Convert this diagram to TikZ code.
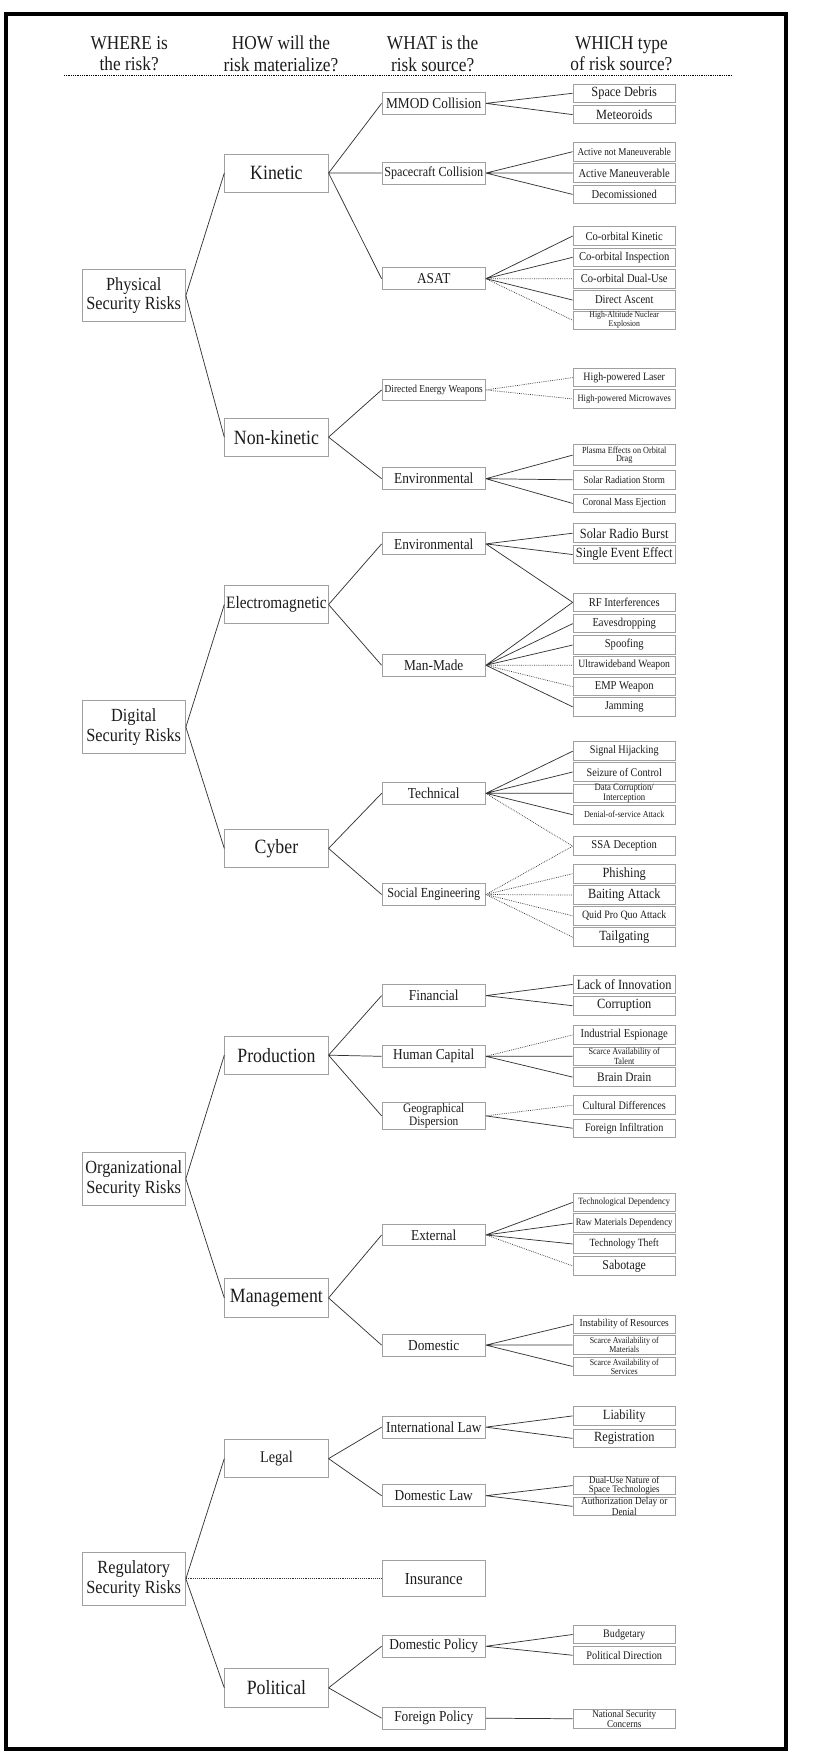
\documentclass[tikz,border=0pt]{standalone}
\usepackage{fontspec}
\setmainfont{Liberation Serif}[FakeStretch=0.88]
\usetikzlibrary{positioning}
\definecolor{ink}{HTML}{1C1C1C}
\definecolor{boxgray}{HTML}{A0A0A0}
\definecolor{linegray}{HTML}{333333}

\begin{document}
\begin{tikzpicture}[x=1pt, y=-1pt,
    box/.style={draw=boxgray, line width=0.8pt, fill=white, text=ink,
                align=center, inner sep=0pt},
    where/.style={box, minimum width=92, minimum height=47,
                  font=\fontsize{16.5}{17.5}\selectfont},
    how/.style={box, minimum width=92, minimum height=34,
                font=\fontsize{18}{19}\selectfont},
    what/.style={box, minimum width=92, minimum height=19.5,
                 font=\fontsize{13.5}{13.5}\selectfont},
    which/.style={box, minimum width=91, minimum height=16.5,
                  font=\fontsize{10.7}{10.7}\selectfont},
    sz/.style={font=\fontsize{#1}{#1}\selectfont},
    two/.style 2 args={font=\fontsize{#1}{#2}\selectfont},
    hdr/.style={text=ink, align=center, font=\fontsize{17.5}{19}\selectfont},
    ln/.style={draw=linegray, line width=0.65pt},
    dln/.style={ln, densely dotted},
  ]
    \useasboundingbox (0,0) rectangle (737,1568);
    \draw[line width=3pt] (5.5,12.5) rectangle (699.5,1556.5);

    % column questions
    \node[hdr] (hwhere) at (115,48) {WHERE is\\the risk?};
    \node[hdr] (hhow)   at (250,48) {HOW will the\\risk materialize?};
    \node[hdr] (hwhat)  at (385,48) {WHAT is the\\risk source?};
    \node[hdr] (hwhich) at (553,48) {WHICH type\\of risk source?};
    \draw[densely dotted, line width=0.6pt] (57,67) -- (651,67);

    % WHERE
    \node[where] (phys) at (119,263)  {Physical\\Security Risks};
    \node[where] (digi) at (119,647)  {Digital\\Security Risks};
    \node[where] (orga) at (119,1049) {Organizational\\Security Risks};
    \node[where] (regu) at (119,1405) {Regulatory\\Security Risks};

    % HOW
    \node[how] (kin)   at (246,154)  {Kinetic};
    \node[how] (nkin)  at (246,389)  {Non-kinetic};
    \node[how, sz=15.5] (emag) at (246,538) {Electromagnetic};
    \node[how] (cyb)   at (246,755)  {Cyber};
    \node[how] (prod)  at (246,939)  {Production};
    \node[how] (mgmt)  at (246,1155) {Management};
    \node[how, sz=14.5] (legal) at (246,1298) {Legal};
    \node[how] (polit) at (246,1502) {Political};

    % WHAT
    \node[what] (mmod) at (386,92)  {MMOD Collision};
    \node[what, sz=12.3] (scol) at (386,154) {Spacecraft Collision};
    \node[what] (asat) at (386,248) {ASAT};
    \node[what, sz=9.5] (dew) at (386,347) {Directed Energy Weapons};
    \node[what] (envp) at (386,426) {Environmental};
    \node[what] (enve) at (386,484) {Environmental};
    \node[what] (manm) at (386,592) {Man-Made};
    \node[what] (tech) at (386,706) {Technical};
    \node[what, sz=12.3] (soce) at (386,796) {Social Engineering};
    \node[what] (fin)  at (386,886) {Financial};
    \node[what] (hcap) at (386,940) {Human Capital};
    \node[what, minimum height=24, two={11.5}{12}] (geo) at (386,993) {Geographical\\Dispersion};
    \node[what] (ext)  at (386,1099) {External};
    \node[what] (dom)  at (386,1197) {Domestic};
    \node[what] (ilaw) at (386,1270) {International Law};
    \node[what] (dlaw) at (386,1331) {Domestic Law};
    \node[what, minimum height=32, sz=15] (insu) at (386,1405) {Insurance};
    \node[what] (dpol) at (386,1465) {Domestic Policy};
    \node[what] (fpol) at (386,1529) {Foreign Policy};

    % WHICH
    \node[which, sz=12.5] (sdeb)  at (555.5,83)  {Space Debris};
    \node[which, sz=12.5] (meteo) at (555.5,102) {Meteoroids};
    \node[which, sz=9.3] (anm)    at (555.5,135) {Active not Maneuverable};
    \node[which] (am)             at (555.5,154) {Active Maneuverable};
    \node[which] (decom)          at (555.5,173) {Decomissioned};
    \node[which] (cok)            at (555.5,210) {Co-orbital Kinetic};
    \node[which] (coi)            at (555.5,229) {Co-orbital Inspection};
    \node[which] (codu)           at (555.5,248) {Co-orbital Dual-Use};
    \node[which] (dasc)           at (555.5,267) {Direct Ascent};
    \node[which, two={7.8}{5.8}] (hane) at (555.5,285) {High-Altitude Nuclear\\Explosion};
    \node[which, sz=10] (hplas)   at (555.5,336) {High-powered Laser};
    \node[which, sz=8.6] (hpmw)   at (555.5,355) {High-powered Microwaves};
    \node[which, minimum height=19, two={8.3}{7}] (plasma) at (555.5,405) {Plasma Effects on Orbital\\Drag};
    \node[which, sz=9.2] (srs)    at (555.5,427) {Solar Radiation Storm};
    \node[which, sz=9.2] (cme)    at (555.5,448) {Coronal Mass Ejection};
    \node[which, sz=12.5] (srb)   at (555.5,474.5) {Solar Radio Burst};
    \node[which, sz=12.5] (see)   at (555.5,493.5) {Single Event Effect};
    \node[which] (rfi)            at (555.5,536) {RF Interferences};
    \node[which] (eaves)          at (555.5,555) {Eavesdropping};
    \node[which] (spoof)          at (555.5,574) {Spoofing};
    \node[which, sz=9.8] (uwb)    at (555.5,592) {Ultrawideband Weapon};
    \node[which] (emp)            at (555.5,611) {EMP Weapon};
    \node[which] (jam)            at (555.5,629) {Jamming};
    \node[which, sz=10.3] (shij)  at (555.5,668.5) {Signal Hijacking};
    \node[which, sz=10.3] (seiz)  at (555.5,687) {Seizure of Control};
    \node[which, two={8.8}{6.4}] (dcor) at (555.5,706) {Data Corruption/\\Interception};
    \node[which, sz=8.2] (dos)    at (555.5,725) {Denial-of-service Attack};
    \node[which] (ssa)            at (555.5,753) {SSA Deception};
    \node[which, sz=12.5] (phish) at (555.5,777.5) {Phishing};
    \node[which, sz=12.5] (bait)  at (555.5,796.5) {Baiting Attack};
    \node[which, sz=10] (quid)    at (555.5,815) {Quid Pro Quo Attack};
    \node[which, sz=12.5] (tail)  at (555.5,834) {Tailgating};
    \node[which, sz=12.5] (lack)  at (555.5,876) {Lack of Innovation};
    \node[which, sz=12.5] (corr)  at (555.5,895) {Corruption};
    \node[which] (iesp)           at (555.5,921) {Industrial Espionage};
    \node[which, two={8.3}{6.6}] (stal) at (555.5,940) {Scarce Availability of\\Talent};
    \node[which, sz=11.5] (bdrain) at (555.5,958.5) {Brain Drain};
    \node[which, sz=10.3] (cult)  at (555.5,983.5) {Cultural Differences};
    \node[which, sz=10.3] (finf)  at (555.5,1004) {Foreign Infiltration};
    \node[which, sz=8.5] (tdep)   at (555.5,1070) {Technological Dependency};
    \node[which, sz=8.8] (rdep)   at (555.5,1088.5) {Raw Materials Dependency};
    \node[which, sz=9.8] (ttheft) at (555.5,1107) {Technology Theft};
    \node[which, sz=12] (sabo)    at (555.5,1126.5) {Sabotage};
    \node[which, sz=9.5] (instab) at (555.5,1178.5) {Instability of Resources};
    \node[which, two={8}{6.4}] (smat)  at (555.5,1197) {Scarce Availability of\\Materials};
    \node[which, two={8}{6.4}] (sserv) at (555.5,1216) {Scarce Availability of\\Services};
    \node[which, sz=12.5] (liab)  at (555.5,1260) {Liability};
    \node[which, sz=12.5] (regis) at (555.5,1280) {Registration};
    \node[which, two={9}{6.2}] (dual) at (555.5,1322) {Dual-Use Nature of\\Space Technologies};
    \node[which, two={9.4}{6.2}] (auth) at (555.5,1340.5) {Authorization Delay or\\Denial};
    \node[which, sz=10.2] (budg)  at (555.5,1454.5) {Budgetary};
    \node[which, sz=10.4] (pdir)  at (555.5,1473) {Political Direction};
    \node[which, two={9.2}{6.8}] (nsec) at (555.5,1529.5) {National Security\\Concerns};

    % WHERE -> HOW
    \draw[ln] (phys.east) -- (kin.west) (phys.east) -- (nkin.west);
    \draw[ln] (digi.east) -- (emag.west) (digi.east) -- (cyb.west);
    \draw[ln] (orga.east) -- (prod.west) (orga.east) -- (mgmt.west);
    \draw[ln] (regu.east) -- (legal.west) (regu.east) -- (polit.west);
    \draw[dln] (regu.east) -- (insu.west);

    % HOW -> WHAT
    \draw[ln] (kin.east) -- (mmod.west) (kin.east) -- (scol.west) (kin.east) -- (asat.west);
    \draw[ln] (nkin.east) -- (dew.west) (nkin.east) -- (envp.west);
    \draw[ln] (emag.east) -- (enve.west) (emag.east) -- (manm.west);
    \draw[ln] (cyb.east) -- (tech.west) (cyb.east) -- (soce.west);
    \draw[ln] (prod.east) -- (fin.west) (prod.east) -- (hcap.west) (prod.east) -- (geo.west);
    \draw[ln] (mgmt.east) -- (ext.west) (mgmt.east) -- (dom.west);
    \draw[ln] (legal.east) -- (ilaw.west) (legal.east) -- (dlaw.west);
    \draw[ln] (polit.east) -- (dpol.west) (polit.east) -- (fpol.west);

    % WHAT -> WHICH (dotted = uncertain link)
    \draw[ln] (mmod.east) -- (sdeb.west) (mmod.east) -- (meteo.west);
    \draw[ln] (scol.east) -- (anm.west) (scol.east) -- (am.west) (scol.east) -- (decom.west);
    \draw[ln] (asat.east) -- (cok.west) (asat.east) -- (coi.west) (asat.east) -- (dasc.west);
    \draw[dln] (asat.east) -- (codu.west) (asat.east) -- (hane.west);
    \draw[dln] (dew.east) -- (hplas.west) (dew.east) -- (hpmw.west);
    \draw[ln] (envp.east) -- (plasma.west) (envp.east) -- (srs.west) (envp.east) -- (cme.west);
    \draw[ln] (enve.east) -- (srb.west) (enve.east) -- (see.west) (enve.east) -- (rfi.west);
    \draw[ln] (manm.east) -- (rfi.west) (manm.east) -- (eaves.west) (manm.east) -- (spoof.west)
              (manm.east) -- (jam.west);
    \draw[dln] (manm.east) -- (uwb.west) (manm.east) -- (emp.west);
    \draw[ln] (tech.east) -- (shij.west) (tech.east) -- (seiz.west) (tech.east) -- (dcor.west)
              (tech.east) -- (dos.west);
    \draw[dln] (tech.east) -- (ssa.west);
    \draw[dln] (soce.east) -- (ssa.west) (soce.east) -- (phish.west) (soce.east) -- (bait.west)
               (soce.east) -- (quid.west) (soce.east) -- (tail.west);
    \draw[ln] (fin.east) -- (lack.west) (fin.east) -- (corr.west);
    \draw[dln] (hcap.east) -- (iesp.west);
    \draw[ln] (hcap.east) -- (stal.west) (hcap.east) -- (bdrain.west);
    \draw[dln] (geo.east) -- (cult.west);
    \draw[ln] (geo.east) -- (finf.west);
    \draw[ln] (ext.east) -- (tdep.west) (ext.east) -- (rdep.west) (ext.east) -- (ttheft.west);
    \draw[dln] (ext.east) -- (sabo.west);
    \draw[ln] (dom.east) -- (instab.west) (dom.east) -- (smat.west) (dom.east) -- (sserv.west);
    \draw[ln] (ilaw.east) -- (liab.west) (ilaw.east) -- (regis.west);
    \draw[ln] (dlaw.east) -- (dual.west) (dlaw.east) -- (auth.west);
    \draw[ln] (dpol.east) -- (budg.west) (dpol.east) -- (pdir.west);
    \draw[ln] (fpol.east) -- (nsec.west);
\end{tikzpicture}
\end{document}
